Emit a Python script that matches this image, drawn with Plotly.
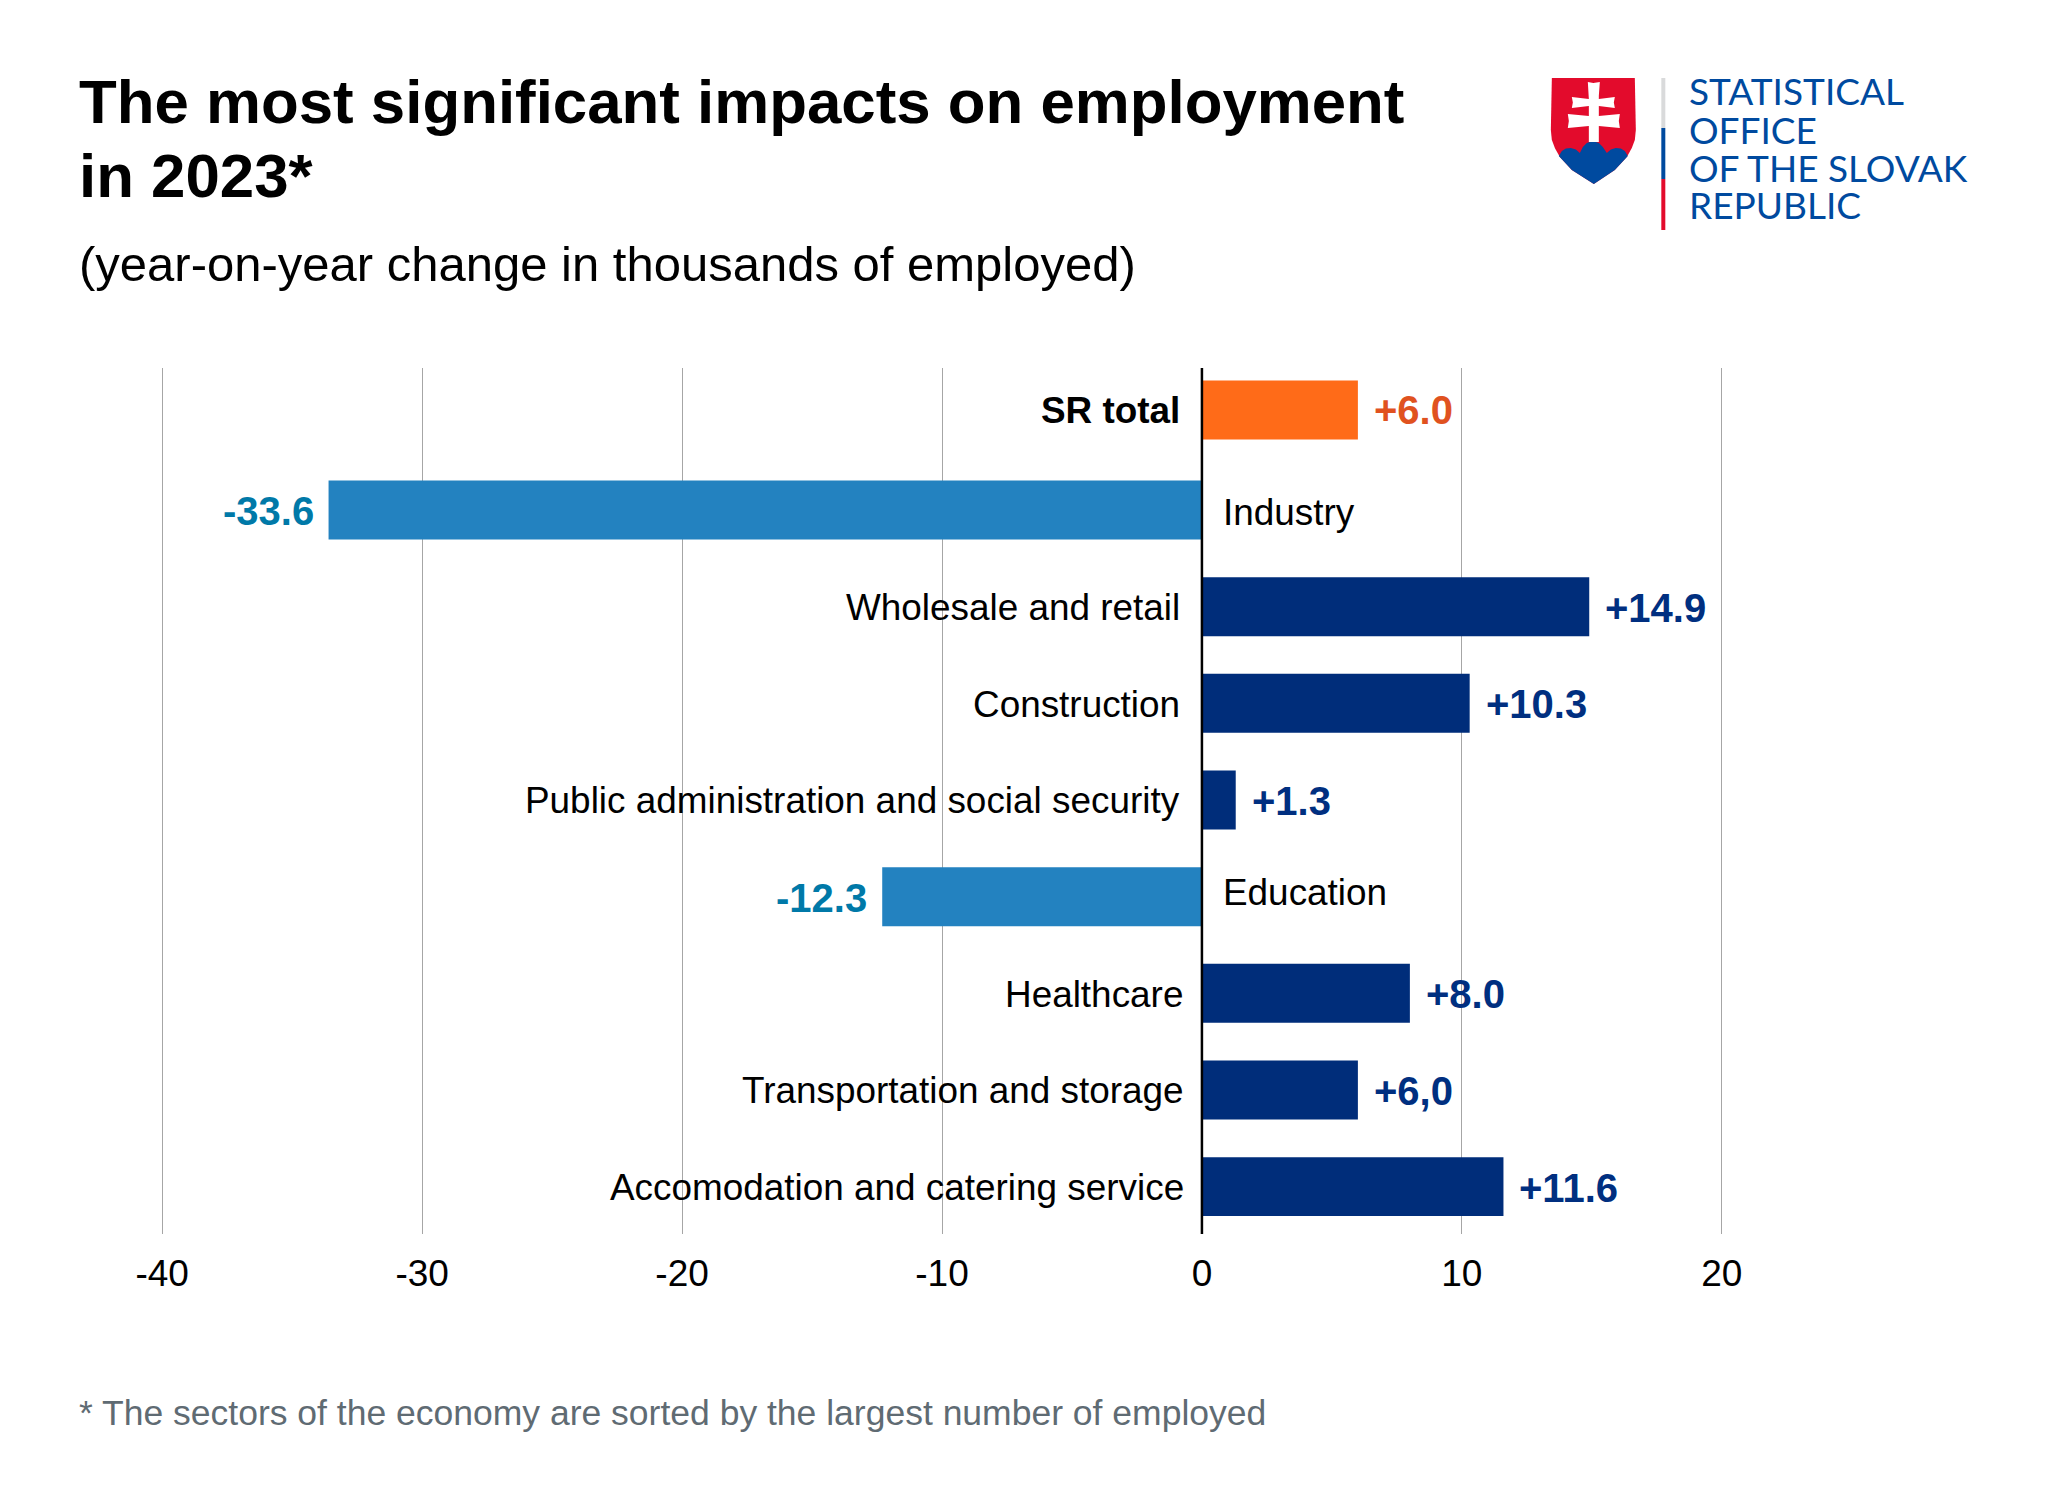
import plotly.graph_objects as go

# ---- data ----
categories = ["SR total", "Industry", "Wholesale and retail", "Construction",
              "Public administration and social security", "Education",
              "Healthcare", "Transportation and storage",
              "Accomodation and catering service"]
values = [6.0, -33.6, 14.9, 10.3, 1.3, -12.3, 8.0, 6.0, 11.6]
value_labels = ["+6.0", "-33.6", "+14.9", "+10.3", "+1.3", "-12.3", "+8.0", "+6,0", "+11.6"]
x_ticks = [-40, -30, -20, -10, 0, 10, 20]
x_tick_labels = ["-40", "-30", "-20", "-10", "0", "10", "20"]
title_lines = ["The most significant impacts on employment", "in 2023*"]
subtitle = "(year-on-year change in thousands of employed)"
footnote = "* The sectors of the economy are sorted by the largest number of employed"
logo_lines = ["STATISTICAL", "OFFICE", "OF THE SLOVAK", "REPUBLIC"]

NAVY, BLUE, ORANGE = "#002d7a", "#2382c0", "#ff6b18"
def bar_col(c, v):
    return ORANGE if c == "SR total" else (BLUE if v < 0 else NAVY)
def text_col(c, v):
    return "#e0521f" if c == "SR total" else ("#0079a8" if v < 0 else "#002f80")

W, H = 2048, 1502
# plot area: 26 px per axis unit, slightly wider than -40..20 so the outer gridlines are drawn
X0, X1 = -40.2, 20.2
L, R, T, B = 162 + (X0 + 40) * 26, 1722 + (X1 - 20) * 26, 368, 1234
FONT = "Liberation Sans"
px = lambda x: (x - L) / (R - L)
py = lambda y: (B - y) / (B - T)

top_nudge = 0.035  # the first bar sits slightly apart from the others
fig = go.Figure(go.Bar(
    x=values, y=categories, orientation="h", width=0.61,
    offset=[-0.305 - (top_nudge if c == "SR total" else 0) for c in categories],
    marker=dict(color=[bar_col(c, v) for c, v in zip(categories, values)], line_width=0),
    hoverinfo="x+y",
))

ann = []
def text(x, y, s, size, color="#000", bold=False, anchor="left", family=FONT):
    ann.append(dict(x=px(x), y=py(y), xref="paper", yref="paper", text=f"<b>{s}</b>" if bold else s,
                    showarrow=False, xanchor=anchor, yanchor="middle", borderpad=0, borderwidth=0,
                    font=dict(family=family, size=size, color=color)))

text(79, 101, title_lines[0], 61.8, bold=True)
text(79, 175, title_lines[1], 61.8, bold=True)
text(79, 264, subtitle, 49)
text(79, 1413, footnote, 35.5, color="#5f6b73")

label_shift = {"SR total": (-20, 3), "Industry": (19, -2), "Education": (19, 4),
               "Healthcare": (-17, -1), "Transportation and storage": (-16, -1),
               "Accomodation and catering service": (-16, -1)}
for c, v, lab in zip(categories, values, value_labels):
    dy = 4 if c == "SR total" else 0
    ann.append(dict(x=v, y=c, xref="x", yref="y", text=f"<b>{lab}</b>", showarrow=False,
                    xanchor="left" if v > 0 else "right", xshift=14 if v > 0 else -13, yshift=dy - 1,
                    font=dict(family=FONT, size=40, color=text_col(c, v))))
    sx, sy = label_shift.get(c, (-20, -1))
    ann.append(dict(x=0, y=c, xref="x", yref="y", text=f"<b>{c}</b>" if c == "SR total" else c,
                    showarrow=False, xanchor="left" if v < 0 else "right",
                    xshift=sx, yshift=sy,
                    font=dict(family=FONT, size=36.9, color="#000")))

# logo
LOGO_BLUE = "#004a9f"
LOGO_RED = "#e30b2c"
for i, line in enumerate(logo_lines):
    text(1689, [91, 129, 167, 205][i], line, 37, color=LOGO_BLUE, family="Lato")

def rect(x0, y0, x1, y1, color):
    return dict(type="rect", xref="paper", yref="paper", x0=px(x0), x1=px(x1), y0=py(y0), y1=py(y1),
                fillcolor=color, line_width=0, layer="above")
def path(points, color):
    d = "M" + " L".join(f"{px(x):.5f},{py(y):.5f}" for x, y in points) + " Z"
    return dict(type="path", xref="paper", yref="paper", path=d, fillcolor=color, line_width=0, layer="above")

shapes = [
    dict(type="line", xref="x", yref="paper", x0=0, x1=0, y0=0, y1=1, line=dict(color="#000", width=2.5), layer="above"),
    rect(1661.5, 78, 1665.5, 128, "#d9dadb"),
    rect(1661.5, 128, 1665.5, 179, LOGO_BLUE),
    rect(1661.5, 179, 1665.5, 230, LOGO_RED),
    path([(1552, 78), (1635, 78), (1636, 130), (1635, 140), (1632, 148), (1627, 157), (1615, 170), (1594, 184),
          (1572, 170), (1560, 157), (1555, 148), (1552, 140), (1551, 130)], LOGO_RED),
    path([(1559, 156), (1562, 151), (1566, 148.5), (1571, 148), (1576, 149.5), (1580, 153), (1583, 147), (1587, 143),
          (1593, 141), (1599, 143), (1603, 147), (1607, 153), (1611, 149.5), (1616, 148), (1621, 148.5), (1625, 151),
          (1628, 156), (1615, 170), (1594, 184), (1572, 170)], LOGO_BLUE),
    # double cross
    path([(1588, 82), (1593.5, 83), (1600, 82), (1599, 96), (1599, 99), (1615, 97), (1614, 102.5), (1615, 108), (1599, 106),
          (1599, 116), (1620, 114), (1619, 121), (1620, 128), (1599, 126), (1599, 142), (1589, 142), (1589, 126),
          (1568, 128), (1569, 121), (1568, 114), (1589, 116), (1589, 106), (1572, 108), (1573, 102.5), (1572, 97), (1589, 99)],
         "#ffffff"),
]

fig.update_layout(
    width=W, height=H, autosize=False,
    margin=dict(l=L, r=W - R, t=T, b=H - B, pad=0),
    paper_bgcolor="#fff", plot_bgcolor="#fff", showlegend=False,
    font=dict(family=FONT, color="#000"),
    annotations=ann, shapes=shapes,
    xaxis=dict(range=[X0, X1], tickvals=x_ticks, ticktext=x_tick_labels, ticks="", showgrid=True,
               gridcolor="#a6a6a6", gridwidth=1, zeroline=False, showline=False, ticklabelstandoff=14,
               tickfont=dict(size=37, family=FONT, color="#000")),
    yaxis=dict(categoryorder="array", categoryarray=categories, range=[8.49, -0.469],
               showticklabels=False, ticks="", showgrid=False, zeroline=False, showline=False),
)
fig.write_html("out.html", post_script="document.body.style.margin='0';",
               config={"displayModeBar": False})
